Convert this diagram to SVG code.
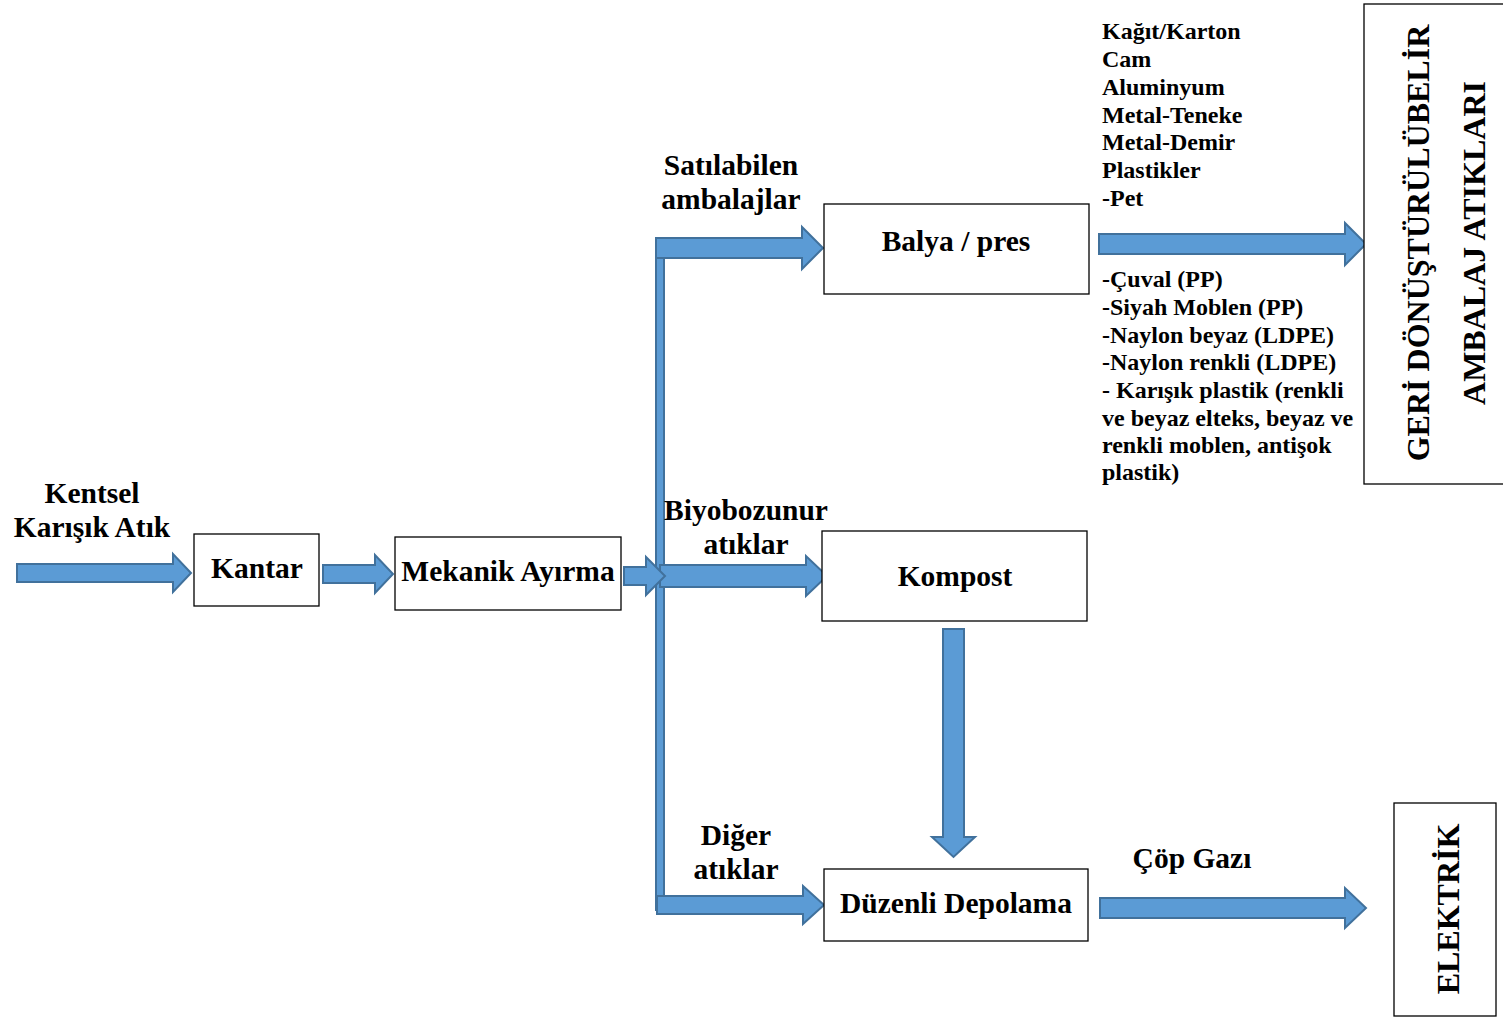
<svg xmlns="http://www.w3.org/2000/svg" width="1503" height="1017" viewBox="0 0 1503 1017">
  <style>
    .box { fill: #ffffff; stroke: #000000; stroke-width: 1.3; }
    .arrow { fill: #5B9BD5; stroke: #41719C; stroke-width: 2; stroke-linejoin: miter; }
    .t { font-family: "Liberation Serif", "Times New Roman", serif; font-weight: bold; fill: #000000; }
    .big { font-size: 29.5px; }
    .small { font-size: 24px; }
    .vert { font-size: 32px; }
    .c { text-anchor: middle; }
  </style>
  <rect width="1503" height="1017" fill="#ffffff"/>

  <!-- connectors -->
  <g id="connectors">
    <rect class="arrow" x="656" y="240" width="8" height="670"/>
    <polygon class="arrow" points="17,564 173,564 173,554 191,573 173,592 173,582 17,582"/>
    <polygon class="arrow" points="323,565 375,565 375,555 393,574 375,593 375,583 323,583"/>
    <polygon class="arrow" points="656,238 802,238 802,227 823,248 802,269 802,258 656,258"/>
    <polygon class="arrow" points="660,565 806,565 806,556 827,576 806,596 806,587 660,587"/>
    <polygon class="arrow" points="624,567 646,567 646,557 665,576 646,595 646,585 624,585"/>
    <polygon class="arrow" points="657,896 803,896 803,886 824,905 803,924 803,914 657,914"/>
    <polygon class="arrow" points="1099,234 1345,234 1345,223 1366,244 1345,265 1345,254 1099,254"/>
    <polygon class="arrow" points="1100,898 1345,898 1345,888 1366,908 1345,928 1345,918 1100,918"/>
    <polygon class="arrow" points="943,629 964,629 964,837 975,837 953.5,857 932,837 943,837"/>
  </g>

  <!-- input label -->
  <g id="input-label">
    <text class="t big c" x="92" y="503">Kentsel</text>
    <text class="t big c" x="92" y="537">Karışık Atık</text>
  </g>

  <g id="kantar">
    <rect class="box" x="194" y="534" width="125" height="72"/>
    <text class="t big c" x="257" y="578">Kantar</text>
  </g>

  <g id="mekanik-ayirma">
    <rect class="box" x="395" y="537" width="226" height="73"/>
    <text class="t big c" x="508" y="581">Mekanik Ayırma</text>
  </g>

  <!-- branch labels -->
  <g id="label-satilabilen">
    <text class="t big c" x="731" y="175">Satılabilen</text>
    <text class="t big c" x="731" y="209">ambalajlar</text>
  </g>
  <g id="label-biyobozunur">
    <text class="t big c" x="746" y="520">Biyobozunur</text>
    <text class="t big c" x="746" y="554">atıklar</text>
  </g>
  <g id="label-diger">
    <text class="t big c" x="736" y="845">Diğer</text>
    <text class="t big c" x="736" y="879">atıklar</text>
  </g>

  <g id="balya-pres">
    <rect class="box" x="824" y="204" width="265" height="90"/>
    <text class="t big c" x="956" y="251">Balya / pres</text>
  </g>

  <g id="kompost">
    <rect class="box" x="822" y="531" width="265" height="90"/>
    <text class="t big c" x="955" y="586">Kompost</text>
  </g>

  <g id="duzenli-depolama">
    <rect class="box" x="824" y="869" width="264" height="72"/>
    <text class="t big c" x="956" y="913">Düzenli Depolama</text>
  </g>

  <!-- recyclable material lists -->
  <g id="material-list" class="t small">
    <text x="1102" y="39">Kağıt/Karton</text>
    <text x="1102" y="67">Cam</text>
    <text x="1102" y="95">Aluminyum</text>
    <text x="1102" y="123">Metal-Teneke</text>
    <text x="1102" y="150">Metal-Demir</text>
    <text x="1102" y="178">Plastikler</text>
    <text x="1102" y="206">-Pet</text>
    <text x="1102" y="287">-Çuval (PP)</text>
    <text x="1102" y="315">-Siyah Moblen (PP)</text>
    <text x="1102" y="343">-Naylon beyaz (LDPE)</text>
    <text x="1102" y="370">-Naylon renkli (LDPE)</text>
    <text x="1102" y="398">- Karışık plastik (renkli</text>
    <text x="1102" y="426">ve beyaz elteks, beyaz ve</text>
    <text x="1102" y="453">renkli moblen, antişok</text>
    <text x="1102" y="480">plastik)</text>
  </g>

  <g id="geri-donusturulebilir">
    <rect class="box" x="1364" y="4" width="140" height="480"/>
    <text class="t vert c" transform="translate(1429,243) rotate(-90)">GERİ DÖNÜŞTÜRÜLÜBELİR</text>
    <text class="t vert c" transform="translate(1485,243) rotate(-90)">AMBALAJ ATIKLARI</text>
  </g>

  <g id="label-cop-gazi">
    <text class="t big c" x="1192" y="868">Çöp Gazı</text>
  </g>

  <g id="elektrik">
    <rect class="box" x="1394" y="803" width="102" height="213"/>
    <text class="t vert c" transform="translate(1459,909) rotate(-90)">ELEKTRİK</text>
  </g>
</svg>
